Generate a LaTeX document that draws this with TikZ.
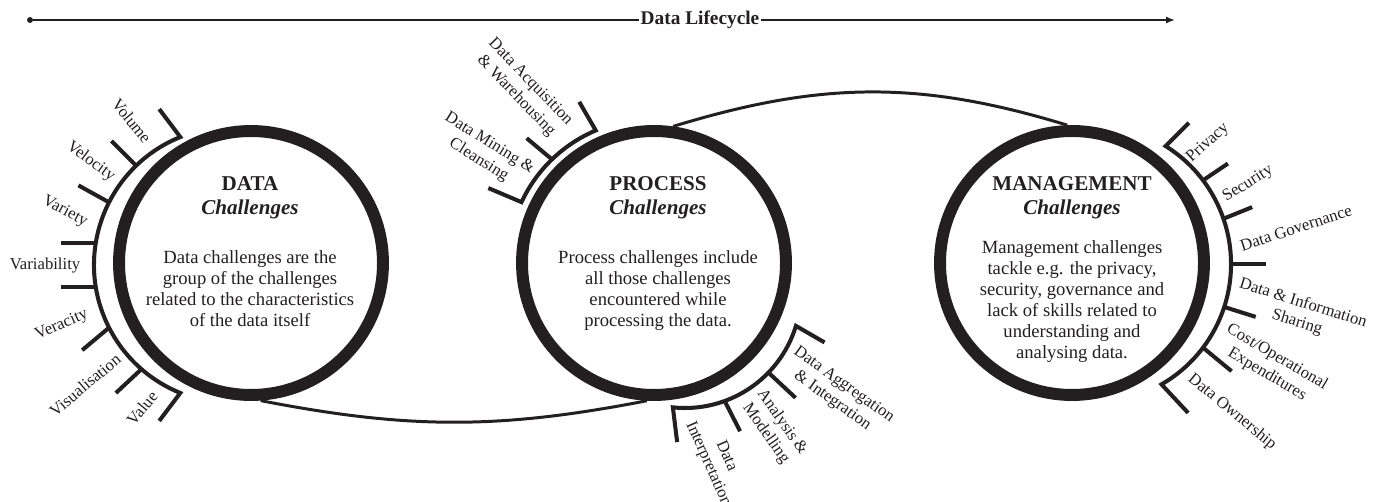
\documentclass[tikz,border=0pt]{standalone}
\usepackage{fontspec}
\setmainfont{Liberation Serif}
\usetikzlibrary{arrows.meta}
\definecolor{ink}{HTML}{231F20}
\tikzstyle{ring}=[circle,draw=ink,line width=6.8pt,minimum size=5.28cm,inner sep=0pt]
\tikzstyle{brk}=[draw=ink,line width=2.3pt]
\tikzstyle{link}=[draw=ink,line width=1.7pt]
\tikzstyle{dot}=[circle,fill=ink,minimum size=0.12cm,inner sep=0pt]
\tikzstyle{lbl}=[font=\fontsize{9.5}{11.3}\selectfont,text=ink,align=center,inner sep=0pt]
\tikzstyle{head}=[font=\fontsize{12}{14}\selectfont\bfseries,text=ink,inner sep=0pt]
\tikzstyle{sub}=[font=\fontsize{12}{14}\selectfont\bfseries\itshape,text=ink,inner sep=0pt]
\tikzstyle{body}=[font=\fontsize{10.6}{12}\selectfont,text=ink,align=center,inner sep=0pt,anchor=north]

\begin{document}
\begin{tikzpicture}[x=0.02cm,y=0.02cm]
\useasboundingbox (0,0) rectangle (1378,-502);

% lifecycle arrow
\node[dot] (lstart) at (30,-20) {};
\node[font=\fontsize{11}{13}\selectfont\bfseries,text=ink,inner sep=0.5pt] (life) at (700,-20) {Data Lifecycle};
\coordinate (lend) at (1175,-20);
\draw[ink,line width=1.1pt] (lstart) -- (life);
\draw[ink,line width=1.1pt,-{Latex[length=5pt,width=4pt]}] (life) -- (lend);

% circles
\node[ring] (data) at (251,-263) {};
\node[ring] (proc) at (654,-263) {};
\node[ring] (mgmt) at (1072,-263) {};

% links between circles
\draw[link] (data.-86) to[out=-11,in=191] (proc.-93);
\draw[link] (proc.82) to[out=17,in=163] (mgmt.92);

% circle texts
\node[head] (datahead) at (250,-184) {DATA};
\node[sub] (datasub) at (250,-209) {Challenges};
\node[body] (databody) at (250,-250) {Data challenges are the\\group of the challenges\\related to the characteristics\\of the data itself};

\node[head] (prochead) at (658,-184) {PROCESS};
\node[sub] (procsub) at (658,-209) {Challenges};
\node[body] (procbody) at (658,-250) {Process challenges include\\all those challenges\\encountered while\\processing the data.};

\node[head] (mgmthead) at (1072,-184) {MANAGEMENT};
\node[sub] (mgmtsub) at (1072,-209) {Challenges};
\node[body] (mgmtbody) at (1072,-240) {Management challenges\\tackle e.g. the privacy,\\security, governance and\\lack of skills related to\\understanding and\\analysing data.};

% data brackets
\draw[brk] (232,-265) ++(112:138) ++(127:35) -- ++(-53:35) arc[start angle=112,end angle=248,radius=138] -- ++(233:35);
\foreach \a/\d in {134/135,153/151,171/180,189/180,207/220,229/223}
  \draw[brk] (232,-265) ++(\a:138) -- ++(\d:35);

% process brackets
\draw[brk] (652,-263) ++(113:144) ++(120:33) -- ++(-60:33) arc[start angle=113,end angle=155,radius=144] -- ++(157:36);
\draw[brk] (652,-263) ++(134:144) -- ++(140:33);
\draw[brk] (685,-292) ++(-17:116) ++(-30:33) -- ++(150:33) arc[start angle=-17,end angle=-96,radius=116] -- ++(-83:35);
\foreach \a/\d/\l in {-44/-43/37,-70/-63/34}
  \draw[brk] (685,-292) ++(\a:116) -- ++(\d:\l);

% management brackets
\draw[brk] (1092,-264) ++(58:139) ++(45:33) -- ++(225:33) arc[start angle=58,end angle=-60,radius=139] -- ++(-47:39);
\foreach \a/\d/\l in {37/34/30,19/22/31,0/0/35,-18/-17.5/33,-37/-39.5/37}
  \draw[brk] (1092,-264) ++(\a:139) -- ++(\d:\l);

% data labels
\node[lbl,rotate=-51] (vol) at (131.7,-120.8) {Volume};
\node[lbl,rotate=-36.5] (vel) at (90.8,-161.7) {Velocity};
\node[lbl,rotate=-28] (var) at (65,-211.7) {Variety};
\node[lbl] (vbl) at (45,-266) {Variability};
\node[lbl,rotate=23.6] (ver) at (61.7,-325) {Veracity};
\node[lbl,rotate=40] (vis) at (85,-385) {Visualisation};
\node[lbl,rotate=50] (val) at (142,-408) {Value};

% process labels
\node[lbl,rotate=-46] (acq) at (523,-89) {Data Acquisition\\\& Warehousing};
\node[lbl,rotate=-32] (mine) at (484,-152) {Data Mining \&\\Cleansing};
\node[lbl,rotate=-35.5] (aggr) at (838,-393) {Data Aggregation\\\& Integration};
\node[lbl,rotate=-55] (anl) at (774,-428) {Analysis \&\\Modelling};
\node[lbl,rotate=-66] (intp) at (717,-460) {Data\\Interpretation};

% management labels
\node[lbl,rotate=42.5] (priv) at (1208,-143) {Privacy};
\node[lbl,rotate=32] (sec) at (1248,-184) {Security};
\node[lbl,rotate=18] (gov) at (1296,-228) {Data Governance};
\node[lbl,rotate=-17.5] (share) at (1300,-313) {Data \& Information\\Sharing};
\node[lbl,rotate=-30.5] (cost) at (1272,-366) {Cost/Operational\\Expenditures};
\node[lbl,rotate=-39.5] (own) at (1232,-412) {Data Ownership};

\end{tikzpicture}
\end{document}
